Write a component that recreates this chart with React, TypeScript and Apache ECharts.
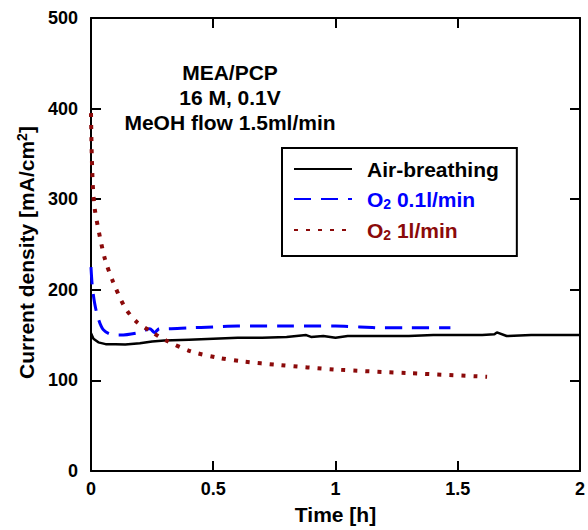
import React, { useEffect, useRef } from "react";
import * as echarts from "echarts";

const airTime = [0, 0.01, 0.03, 0.06, 0.1, 0.14, 0.2, 0.25, 0.3, 0.4, 0.5, 0.6, 0.7, 0.8, 0.88, 0.9, 0.95, 1.0, 1.05, 1.1, 1.2, 1.3, 1.4, 1.5, 1.6, 1.65, 1.66, 1.7, 1.8, 1.9, 2.0];
const airValues = [152, 146, 142, 140, 140, 139.5, 141, 143, 144, 145, 146, 147, 147, 148, 150, 148, 149, 147, 149, 149, 149, 149, 150, 150, 150, 151, 153, 149, 150, 150, 150];

const o2LowTime = [0, 0.005, 0.015, 0.03, 0.05, 0.08, 0.12, 0.2, 0.24, 0.26, 0.28, 0.3, 0.4, 0.5, 0.6, 0.8, 1.0, 1.1, 1.2, 1.3, 1.47];
const o2LowValues = [225, 205, 185, 168, 156, 151, 150, 153, 157, 153, 157, 157, 158, 159, 160, 160, 160, 159, 158, 158, 158];

const o2HighTime = [0, 0.003, 0.008, 0.015, 0.03, 0.057, 0.09, 0.138, 0.185, 0.24, 0.307, 0.41, 0.52, 0.62, 0.77, 1.0, 1.3, 1.62];
const o2HighValues = [395, 350, 312, 290, 267, 234, 209, 181, 165, 155, 144, 132, 125, 121, 117, 112, 108, 104];

const seriesNames = ["Air-breathing", "O2 0.1l/min", "O2 1l/min"];
const seriesColors = ["#000000", "#0000ff", "#8b0a0a"];

const FONT = "'Liberation Sans', Arial, sans-serif";

const zip = (t: number[], v: number[]) => t.map((x, i) => [x, v[i]]);

export default function App() {
  const ref = useRef<HTMLDivElement>(null);
  useEffect(() => {
    if (!ref.current) return;
    const chart = echarts.init(ref.current, undefined, { renderer: "svg" });
    const axisLine = { show: true, onZero: false, lineStyle: { color: "#000", width: 2 } };
    const axisTick = { show: true, inside: true, length: 10, lineStyle: { color: "#000", width: 2 } };
    const labelStyle = { color: "#000", fontFamily: FONT, fontWeight: "bold" as const, fontSize: 18 };
    const rich = {
      b: { fontFamily: FONT, fontWeight: "bold" as const, fontSize: 21 },
      s: { fontFamily: FONT, fontWeight: "bold" as const, fontSize: 14, padding: [10, 0, 0, 0] },
    };
    chart.setOption({
      animation: false,
      grid: { left: 91, right: 4, top: 18, bottom: 57 },
      xAxis: [
        {
          type: "value", min: 0, max: 2, interval: 0.5,
          axisLine, axisTick, splitLine: { show: false },
          axisLabel: { ...labelStyle, margin: 9 },
          name: "Time [h]", nameLocation: "middle", nameGap: 33,
          nameTextStyle: { ...labelStyle, fontSize: 21 },
        },
        {
          type: "value", position: "top", min: 0, max: 2, interval: 0.5,
          axisLine, axisTick, splitLine: { show: false }, axisLabel: { show: false },
        },
      ],
      yAxis: [
        {
          type: "value", min: 0, max: 500, interval: 100,
          axisLine, axisTick, splitLine: { show: false },
          axisLabel: { ...labelStyle, margin: 13 },
          name: "{a|Current density [mA/cm}{p|2}{a|]}", nameLocation: "middle", nameGap: 52,
          nameTextStyle: {
            padding: [0, 16, 0, 0],
            rich: {
              a: { fontFamily: FONT, fontWeight: "bold", fontSize: 21, color: "#000" },
              p: { fontFamily: FONT, fontWeight: "bold", fontSize: 14, color: "#000", padding: [0, 0, 10, 0] },
            },
          },
        },
        {
          type: "value", position: "right", min: 0, max: 500, interval: 100,
          axisLine, axisTick, splitLine: { show: false }, axisLabel: { show: false },
        },
      ],
      legend: {
        orient: "vertical", left: 282, top: 148,
        padding: [10, 18, 14, 11], itemGap: 8,
        borderColor: "#000", borderWidth: 2,
        itemWidth: 58, itemHeight: 14,
        itemStyle: { opacity: 0 },
        data: seriesNames.map((n, i) => ({ name: n, textStyle: { color: seriesColors[i] } })),
        formatter: (name: string) => {
          if (name.startsWith("O2")) return "{b|O}{s|2}{b|" + name.slice(2) + "}";
          return "{b|" + name + "}";
        },
        textStyle: { fontFamily: FONT, fontWeight: "bold", fontSize: 21, lineHeight: 22, padding: [0, 0, 0, 10], rich },
      },
      graphic: [
        {
          type: "text", x: 230, y: 60,
          style: {
            text: "MEA/PCP\n16 M, 0.1V\nMeOH flow 1.5ml/min",
            align: "center", verticalAlign: "top",
            fontFamily: FONT, fontWeight: "bold", fontSize: 21, lineHeight: 25, fill: "#000",
          },
        },
      ],
      series: [
        {
          name: seriesNames[0], type: "line", data: zip(airTime, airValues), symbol: "none",
          lineStyle: { color: seriesColors[0], width: 2.5 }, itemStyle: { color: seriesColors[0] },
        },
        {
          name: seriesNames[1], type: "line", data: zip(o2LowTime, o2LowValues), symbol: "none", smooth: 0.3,
          lineStyle: { color: seriesColors[1], width: 3, type: [17, 10] }, itemStyle: { color: seriesColors[1] },
        },
        {
          name: seriesNames[2], type: "line", data: zip(o2HighTime, o2HighValues), symbol: "none", smooth: 0.3,
          lineStyle: { color: seriesColors[2], width: 4, type: [4, 8] }, itemStyle: { color: seriesColors[2] },
        },
      ],
    });
    return () => chart.dispose();
  }, []);
  return <div ref={ref} style={{ width: 588, height: 530, position: "absolute", left: 0, top: 0 }} />;
}
